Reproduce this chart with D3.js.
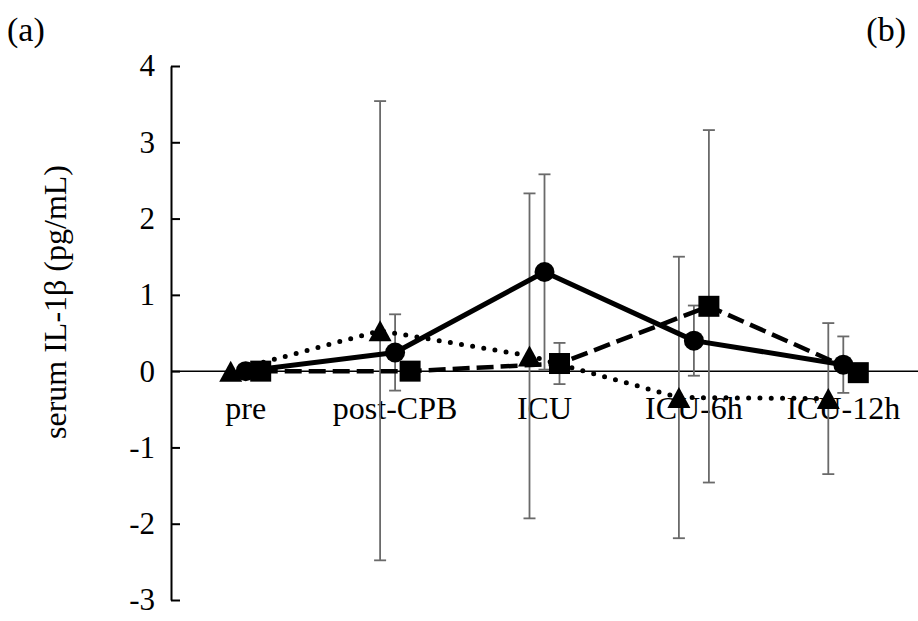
<!DOCTYPE html>
<html>
<head>
<meta charset="utf-8">
<script src="https://cdn.jsdelivr.net/npm/d3@7"></script>
<style>
  html, body { margin: 0; padding: 0; background: #fff; }
  svg { display: block; }
  text { font-family: "Liberation Serif", "Times New Roman", serif; fill: #000; }
</style>
</head>
<body>
<svg id="chart" width="918" height="621"></svg>
<script>
// Time points
const categories = ["pre", "post-CPB", "ICU", "ICU-6h", "ICU-12h"];

// Group with circle markers (solid line)
const circleMean = [0, 0.245, 1.30, 0.40, 0.085];
const circleErr  = [0, 0.50, 1.28, 0.46, 0.37];

// Group with square markers (dashed line)
const squareMean = [0, 0.0, 0.10, 0.85, -0.02];
const squareErr  = [0, 0, 0.27, 2.31, 0];

// Group with triangle markers (dotted line)
const triangleMean = [0, 0.53, 0.20, -0.345, -0.36];
const triangleErr  = [0, 3.01, 2.13, 1.845, 0.99];

const yTicks = [-3, -2, -1, 0, 1, 2, 3, 4];
const yTitle = "serum IL-1β (pg/mL)";

const plot = { left: 171, right: 918, top: 66, bottom: 600 };

const svg = d3.select("#chart");

const x = d3.scaleBand().domain(categories).range([plot.left, plot.right]);
const y = d3.scaleLinear().domain([-3, 4]).range([plot.bottom, plot.top]);
const cx = (c, off) => x(c) + x.bandwidth() / 2 + off;

const series = [
  { mean: triangleMean, err: triangleErr, off: -15, marker: "triangle",
    dash: "0 11.3", width: 5, cap: "round" },
  { mean: circleMean, err: circleErr, off: 0, marker: "circle",
    dash: null, width: 5, cap: "butt" },
  { mean: squareMean, err: squareErr, off: 15, marker: "square",
    dash: "17 7", width: 4.5, cap: "butt" }
];

// Y axis with inward ticks; plain hyphen for negatives
const yAxis = d3.axisLeft(y).tickValues(yTicks).tickSizeInner(-9).tickSizeOuter(0)
  .tickPadding(16).tickFormat(d => String(d));
const gy = svg.append("g").attr("transform", `translate(${plot.left},0)`).call(yAxis);
gy.select(".domain").attr("stroke", "#000").attr("stroke-width", 2);
gy.selectAll(".tick line").attr("stroke", "#000").attr("stroke-width", 2);
gy.selectAll(".tick text").style("font-size", "31px")
  .style("font-family", "'Liberation Serif', 'Times New Roman', serif")
  .attr("fill", "#000");

// Horizontal axis line at zero
svg.append("line")
  .attr("x1", plot.left).attr("x2", plot.right)
  .attr("y1", y(0)).attr("y2", y(0))
  .attr("stroke", "#000").attr("stroke-width", 1.5);

// Category labels under the zero line
svg.append("g").selectAll("text").data(categories).join("text")
  .attr("x", d => cx(d, 0))
  .attr("y", 419)
  .attr("text-anchor", "middle")
  .style("font-size", "32px")
  .text(d => d);

// Y axis title
svg.append("text")
  .attr("transform", "translate(55,302) rotate(-90)")
  .attr("text-anchor", "middle")
  .attr("dominant-baseline", "central")
  .style("font-size", "32px")
  .text(yTitle);

// Panel letters
svg.append("text").attr("x", 7).attr("y", 41).style("font-size", "34px").text("(a)");
svg.append("text").attr("x", 906).attr("y", 41).attr("text-anchor", "end")
  .style("font-size", "34px").text("(b)");

// Error bars
const gErr = svg.append("g");
series.forEach(s => {
  categories.forEach((c, i) => {
    if (!s.err[i]) return;
    const px = cx(c, s.off);
    const y1 = y(s.mean[i] + s.err[i]), y2 = y(s.mean[i] - s.err[i]);
    gErr.append("line").attr("x1", px).attr("x2", px).attr("y1", y1).attr("y2", y2)
      .attr("stroke", "#6a6a6a").attr("stroke-width", 1.8);
    [y1, y2].forEach(yy => gErr.append("line")
      .attr("x1", px - 6).attr("x2", px + 6).attr("y1", yy).attr("y2", yy)
      .attr("stroke", "#6a6a6a").attr("stroke-width", 1.8));
  });
});

// Lines and markers
const line = d3.line().x(d => d.x).y(d => d.y);
series.forEach(s => {
  const pts = categories.map((c, i) => ({ x: cx(c, s.off), y: y(s.mean[i]) }));
  const path = svg.append("path").datum(pts).attr("d", line)
    .attr("fill", "none").attr("stroke", "#000")
    .attr("stroke-width", s.width).attr("stroke-linecap", s.cap)
    .attr("stroke-linejoin", "round");
  if (s.dash) path.attr("stroke-dasharray", s.dash);

  const g = svg.append("g");
  pts.forEach(p => {
    if (s.marker === "circle") {
      g.append("circle").attr("cx", p.x).attr("cy", p.y).attr("r", 10).attr("fill", "#000");
    } else if (s.marker === "square") {
      g.append("rect").attr("x", p.x - 10.5).attr("y", p.y - 10.5)
        .attr("width", 21).attr("height", 21).attr("fill", "#000");
    } else {
      // triangle with its bounding box centred on the point
      const w = 23, h = 21;
      g.append("path")
        .attr("d", `M${p.x},${p.y - h / 2}L${p.x + w / 2},${p.y + h / 2}L${p.x - w / 2},${p.y + h / 2}Z`)
        .attr("fill", "#000");
    }
  });
});
</script>
</body>
</html>
